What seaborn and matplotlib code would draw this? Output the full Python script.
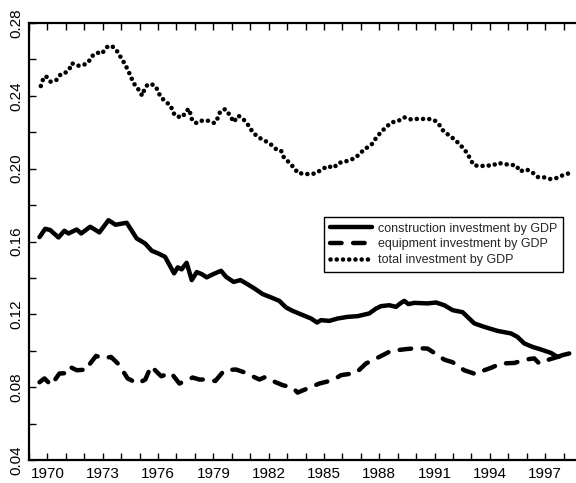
import numpy as np
import pandas as pd
import matplotlib
matplotlib.use('Agg')
import matplotlib.pyplot as plt
import seaborn as sns

sns.set_style('ticks')
plt.rcParams['font.family'] = ['Liberation Sans', 'DejaVu Sans']

# construction investment / GDP
cons_year = [1969.57, 1969.88, 1970.15, 1970.60, 1970.92, 1971.14, 1971.59, 1971.83, 1972.32, 1972.82,
             1973.31, 1973.70, 1974.30, 1974.84, 1975.30, 1975.66, 1976.02, 1976.38, 1976.87, 1977.07,
             1977.28, 1977.55, 1977.83, 1978.10, 1978.37, 1978.64, 1979.00, 1979.42, 1979.69, 1980.10,
             1980.47, 1980.78, 1981.23, 1981.68, 1982.13, 1982.58, 1982.94, 1983.30, 1983.85, 1984.30,
             1984.63, 1984.84, 1985.29, 1985.74, 1986.28, 1986.83, 1987.46, 1987.83, 1988.10, 1988.55,
             1988.91, 1989.14, 1989.36, 1989.58, 1989.90, 1990.62, 1991.08, 1991.53, 1991.98, 1992.52,
             1993.16, 1993.70, 1994.42, 1995.15, 1995.50, 1995.87, 1996.32, 1996.77, 1997.32, 1997.67,
             1997.94, 1998.31]
cons_val = [0.1624, 0.1670, 0.1663, 0.1622, 0.1659, 0.1644, 0.1666, 0.1644, 0.1681, 0.1650,
            0.1717, 0.1692, 0.1703, 0.1617, 0.1589, 0.1549, 0.1534, 0.1516, 0.1425, 0.1458,
            0.1447, 0.1483, 0.1388, 0.1432, 0.1421, 0.1403, 0.1421, 0.1439, 0.1406, 0.1378,
            0.1388, 0.1370, 0.1342, 0.1311, 0.1293, 0.1274, 0.1238, 0.1219, 0.1196, 0.1177,
            0.1155, 0.1168, 0.1164, 0.1177, 0.1186, 0.1190, 0.1205, 0.1232, 0.1245, 0.1250,
            0.1241, 0.1260, 0.1274, 0.1256, 0.1263, 0.1260, 0.1265, 0.1250, 0.1223, 0.1212,
            0.1150, 0.1131, 0.1109, 0.1095, 0.1076, 0.1040, 0.1021, 0.1007, 0.0988, 0.0966,
            0.0976, 0.0985]

# equipment investment / GDP
equip_year = [1969.57, 1969.84, 1970.20, 1970.65, 1971.19, 1971.29, 1971.59, 1972.19, 1972.28, 1972.64,
              1973.00, 1973.45, 1973.87, 1974.35, 1974.90, 1975.31, 1975.62, 1976.17, 1976.71, 1977.16,
              1977.88, 1978.24, 1978.51, 1979.11, 1979.60, 1980.23, 1980.78, 1980.99, 1981.50, 1981.82,
              1982.22, 1982.76, 1983.30, 1983.57, 1984.11, 1984.75, 1985.47, 1985.93, 1986.74, 1987.28,
              1988.00, 1988.64, 1989.45, 1989.99, 1990.62, 1991.17, 1991.53, 1991.98, 1992.61, 1993.25,
              1993.70, 1994.06, 1994.60, 1995.33, 1995.96, 1996.41, 1996.68, 1997.22, 1997.67, 1998.31]
equip_val = [0.0827, 0.0848, 0.0811, 0.0875, 0.0878, 0.0908, 0.0893, 0.0897, 0.0925, 0.0972,
             0.0958, 0.0966, 0.0925, 0.0848, 0.0820, 0.0842, 0.0915, 0.0860, 0.0878, 0.0820,
             0.0853, 0.0842, 0.0842, 0.0834, 0.0893, 0.0897, 0.0878, 0.0866, 0.0842, 0.0856,
             0.0834, 0.0811, 0.0798, 0.0770, 0.0793, 0.0820, 0.0838, 0.0866, 0.0878, 0.0930,
             0.0966, 0.0999, 0.1009, 0.1014, 0.1012, 0.0976, 0.0951, 0.0937, 0.0893, 0.0871,
             0.0893, 0.0906, 0.0930, 0.0933, 0.0952, 0.0958, 0.0930, 0.0952, 0.0966, 0.0985]

# total investment / GDP
total_year = [1969.64, 1969.75, 1969.91, 1970.18, 1970.50, 1970.74, 1971.01, 1971.19, 1971.32, 1971.64,
              1971.95, 1972.22, 1972.40, 1972.71, 1972.94, 1973.24, 1973.49, 1973.81, 1974.00, 1974.21,
              1974.39, 1974.54, 1974.68, 1974.93, 1975.14, 1975.26, 1975.44, 1975.76, 1975.98, 1976.11,
              1976.38, 1976.69, 1976.80, 1976.98, 1977.32, 1977.52, 1977.68, 1977.77, 1977.86, 1978.10,
              1978.41, 1978.73, 1979.06, 1979.24, 1979.37, 1979.64, 1979.92, 1980.10, 1980.36, 1980.65,
              1980.92, 1981.12, 1981.40, 1981.73, 1982.08, 1982.38, 1982.67, 1982.81, 1983.05, 1983.34,
              1983.61, 1983.87, 1984.21, 1984.53, 1984.90, 1985.20, 1985.53, 1985.80, 1986.07, 1986.38,
              1986.70, 1986.97, 1987.30, 1987.59, 1987.80, 1988.06, 1988.38, 1988.67, 1989.03, 1989.36,
              1989.69, 1990.03, 1990.35, 1990.68, 1990.99, 1991.30, 1991.49, 1991.82, 1992.14, 1992.47,
              1992.76, 1992.94, 1993.12, 1993.47, 1993.79, 1994.12, 1994.46, 1994.78, 1995.15, 1995.43,
              1995.63, 1995.99, 1996.30, 1996.61, 1996.95, 1997.28, 1997.60, 1997.94, 1998.27]
total_val = [0.2454, 0.2487, 0.2509, 0.2477, 0.2488, 0.2521, 0.2529, 0.2546, 0.2579, 0.2565,
             0.2569, 0.2584, 0.2617, 0.2637, 0.2631, 0.2668, 0.2675, 0.2641, 0.2608, 0.2573,
             0.2536, 0.2502, 0.2469, 0.2436, 0.2401, 0.2436, 0.2463, 0.2461, 0.2433, 0.2399,
             0.2370, 0.2346, 0.2311, 0.2287, 0.2283, 0.2315, 0.2329, 0.2296, 0.2263, 0.2250,
             0.2265, 0.2263, 0.2250, 0.2278, 0.2313, 0.2327, 0.2291, 0.2256, 0.2291, 0.2269,
             0.2236, 0.2203, 0.2175, 0.2157, 0.2137, 0.2109, 0.2100, 0.2065, 0.2040, 0.2009,
             0.1974, 0.1974, 0.1969, 0.1974, 0.1996, 0.2014, 0.2005, 0.2032, 0.2036, 0.2047,
             0.2058, 0.2086, 0.2113, 0.2133, 0.2164, 0.2197, 0.2229, 0.2254, 0.2262, 0.2282,
             0.2271, 0.2273, 0.2273, 0.2273, 0.2267, 0.2236, 0.2205, 0.2181, 0.2156, 0.2122,
             0.2087, 0.2053, 0.2020, 0.2013, 0.2018, 0.2016, 0.2032, 0.2025, 0.2021, 0.2018,
             0.1985, 0.1996, 0.1980, 0.1954, 0.1952, 0.1943, 0.1948, 0.1963, 0.1974]

labels = ['construction investment by GDP', 'equipment investment by GDP', 'total investment by GDP']
year_ticks = list(range(1970, 1998, 3))
y_ticks = [0.04, 0.08, 0.12, 0.16, 0.20, 0.24, 0.28]

fig = plt.figure(figsize=(5.76, 4.83), dpi=100)
# right spine falls just outside the canvas, as in the original
ax = fig.add_axes([29 / 576, 23 / 483, 553 / 576, 437 / 483])

sns.lineplot(x=cons_year, y=cons_val, ax=ax, color='black', linewidth=3.2, estimator=None,
             sort=False, solid_joinstyle='round', solid_capstyle='round', label=labels[0])
sns.lineplot(x=equip_year, y=equip_val, ax=ax, color='black', linewidth=3.2, estimator=None,
             sort=False, linestyle=(0, (2.6, 2.6)), dash_capstyle='round', dash_joinstyle='round',
             label=labels[1])
sns.lineplot(x=total_year, y=total_val, ax=ax, color='black', linewidth=3.3, estimator=None,
             sort=False, linestyle=(0, (0.01, 1.35)), dash_capstyle='round', label=labels[2])

ax.set_xlim(1969, 1999)
ax.set_ylim(0.04, 0.28)
ax.set_xticks(year_ticks)
ax.set_xticklabels([str(y) for y in year_ticks])
ax.set_xticks(range(1969, 1999), minor=True)
ax.set_yticks(y_ticks)
ax.set_yticklabels([f'{v:.2f}' for v in y_ticks], rotation=90, va='center')
ax.set_yticks(np.arange(0.04, 0.281, 0.02), minor=True)
ax.tick_params(axis='x', which='both', direction='in', top=True, bottom=True, length=5,
               width=1, labelsize=11, pad=5, colors='black')
ax.tick_params(axis='y', which='both', direction='in', left=True, right=False, length=5,
               width=1, labelsize=11, pad=4, colors='black')
for side in ['left', 'bottom', 'top', 'right']:
    ax.spines[side].set_linewidth(1.6)
    ax.spines[side].set_color('black')
ax.set_xlabel('')
ax.set_ylabel('')

leg = ax.legend(loc='upper left', bbox_to_anchor=(324 / 576, 1 - 217 / 483),
                bbox_transform=fig.transFigure, fontsize=9, handlelength=3.4,
                handletextpad=0.45, borderpad=0.45, labelspacing=0.3, fancybox=False,
                framealpha=1, edgecolor='black', borderaxespad=0)
leg.get_frame().set_linewidth(1.0)

fig.savefig('out.png', dpi=100)
